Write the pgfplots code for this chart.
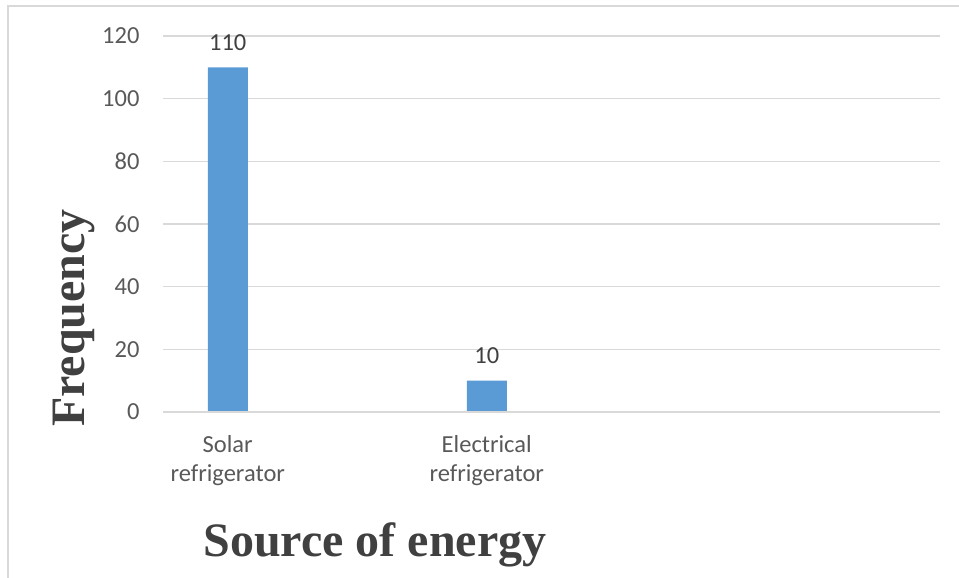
\documentclass[border=0pt]{standalone}
\usepackage{fontspec}
\setmainfont{Carlito}
\newfontfamily\titlefont{Liberation Serif}
\usepackage{pgfplots}
\pgfplotsset{compat=1.18}
\definecolor{barblue}{HTML}{5B9BD5}
\definecolor{gridgray}{HTML}{D9D9D9}
\definecolor{ticktext}{HTML}{595959}
\definecolor{labtext}{HTML}{404040}
\begin{document}
\begin{tikzpicture}[x=1pt,y=1pt]
\useasboundingbox (0,0) rectangle (959,578);
\draw[gridgray, line width=2pt] (8,0) -- (8,572) -- (959,572);
\begin{axis}[
  at={(163pt,166pt)}, anchor=south west,
  scale only axis, width=777pt, height=376pt,
  ybar, bar width=40pt,
  xmin=-0.5, xmax=5.5, ymin=0, ymax=120,
  ytick={0,20,...,120},
  xtick={0,2}, xticklabels={Solar\\refrigerator, Electrical\\refrigerator},
  xticklabel style={align=center, font=\fontsize{24.5}{28.5}\selectfont, text=ticktext, yshift=-20pt},
  yticklabel style={font=\fontsize{24.5}{28}\selectfont, text=ticktext, xshift=-20pt},
  /pgf/number format/assume math mode=true,
  major tick length=0pt,
  axis line style={draw=none},
  axis x line*=bottom, axis y line*=left,
  ymajorgrids, grid style={gridgray, line width=1.2pt},
  xtick pos=bottom,
  nodes near coords,
  every node near coord/.append style={font=\fontsize{24.5}{28}\selectfont, text=labtext, yshift=13pt},
  clip=false,
]
\addplot[fill=barblue, draw=none] coordinates {(0,110) (2,10)};
\draw[gridgray, line width=1.2pt] (axis cs:-0.5,0) -- (axis cs:5.5,0);
\end{axis}
\node[rotate=90, font=\titlefont\bfseries\fontsize{48}{50}\selectfont, text=labtext] at (74,260) {Frequency};
\node[anchor=base, font=\titlefont\bfseries\fontsize{48}{50}\selectfont, text=labtext] at (375,21) {Source of energy};
\end{tikzpicture}
\end{document}
